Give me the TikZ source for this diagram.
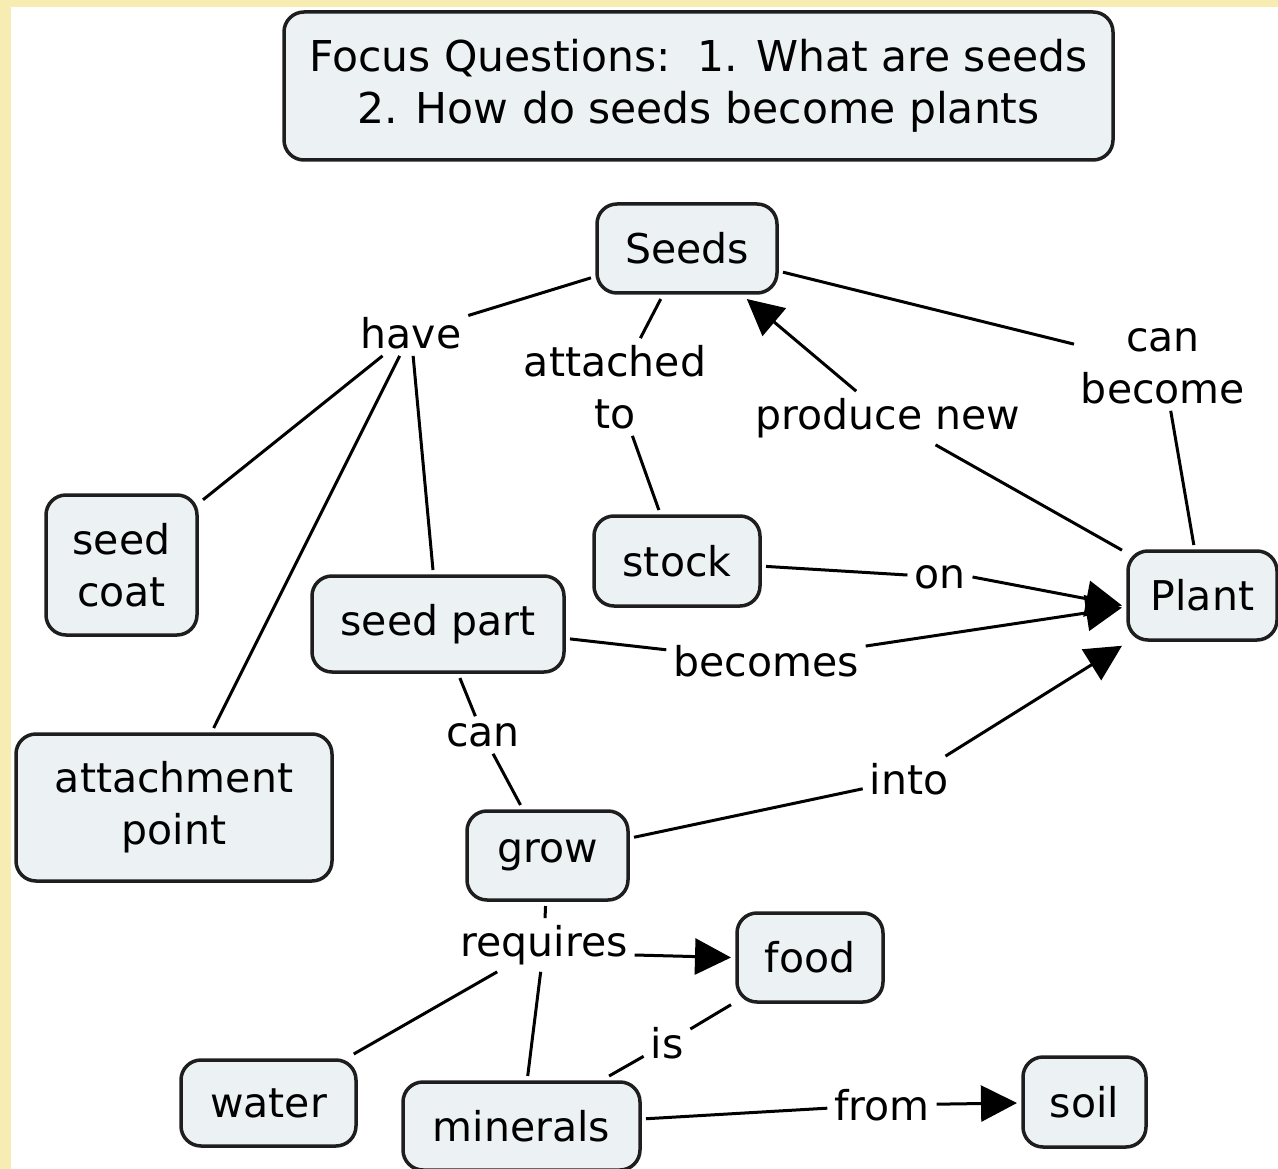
\documentclass[tikz,border=0pt]{standalone}
\usepackage{fontspec}
\setmainfont{DejaVu Sans}
\usetikzlibrary{arrows.meta}
\definecolor{bgyellow}{HTML}{F7EDB2}
\definecolor{boxfill}{HTML}{ECF1F4}
\definecolor{boxline}{HTML}{1E1E1E}
\tikzset{
  concept/.style={draw=boxline, fill=boxfill, line width=3.5pt, rounded corners=20pt,
    inner sep=0pt, outer sep=6pt, align=center, font=\fontsize{41}{52}\selectfont},
  linklabel/.style={inner sep=7pt, outer sep=0pt, align=center, font=\fontsize{41}{52}\selectfont},
  conn/.style={line width=3pt, draw=black},
  arr/.style={conn, -{Triangle[length=36pt,width=36pt]}},
}
\begin{document}
\begin{tikzpicture}[x=1pt,y=-1pt]
\fill[bgyellow] (0,0) rectangle (1278,1169);
\fill[white] (11,7) rectangle (1278,1169);
\useasboundingbox (0,0) rectangle (1278,1169);

% concepts
\node[concept, minimum width=829pt, minimum height=148pt, font=\fontsize{42.5}{52}\selectfont] (focus) at (698.5,86)
  {Focus Questions:~~1. What are seeds\\2. How do seeds become plants};
\node[concept, minimum width=180pt, minimum height=89pt] (seeds) at (687,248.5) {Seeds};
\node[concept, minimum width=151pt, minimum height=140pt] (coat) at (121.5,565) {seed\\coat};
\node[concept, minimum width=316pt, minimum height=147pt] (attach) at (174,807.5) {attachment\\point};
\node[concept, minimum width=252pt, minimum height=96pt] (part) at (438,624) {seed part};
\node[concept, minimum width=166pt, minimum height=90pt] (stock) at (677,561) {stock};
\node[concept, minimum width=149pt, minimum height=89pt] (plant) at (1202.5,595.5) {Plant};
\node[concept, minimum width=161pt, minimum height=89pt] (grow) at (547.5,855.5) {grow};
\node[concept, minimum width=146pt, minimum height=89pt] (food) at (810,957.5) {food};
\node[concept, minimum width=175pt, minimum height=86pt] (water) at (268.5,1103) {water};
\node[concept, minimum width=237pt, minimum height=88pt] (minerals) at (521.5,1126) {minerals};
\node[concept, minimum width=123pt, minimum height=90pt] (soil) at (1084.5,1102) {soil};

% link labels
\node[linklabel] (have) at (411,333) {have};
\node[linklabel] (attto) at (615,387) {attached\\to};
\node[linklabel] (produce) at (888,418) {produce new};
\node[linklabel] (canbecome) at (1163,366) {can\\become};
\node[linklabel] (on) at (940,577) {on};
\node[linklabel] (becomes) at (766,661) {becomes};
\node[linklabel] (can) at (483,735) {can};
\node[linklabel] (into) at (909,779) {into};
\node[linklabel] (requires) at (544,945) {requires};
\node[linklabel] (is) at (667,1043) {is};
\node[linklabel] (from) at (882,1105) {from};

% connectors
\draw[conn] (seeds) -- (have);
\draw[conn] (have) -- (coat);
\draw[conn] (have) -- (attach);
\draw[conn] (have) -- (part);
\draw[conn] (seeds) -- (attto);
\draw[conn] (attto) -- (stock);
\draw[conn] (seeds) -- (canbecome);
\draw[conn] (canbecome) -- (plant);
\draw[conn] (plant) -- (produce);
\draw[arr] (produce) -- (seeds);
\draw[conn] (stock) -- (on);
\draw[arr] (on.east) -- ([yshift=-10pt]plant.west);
\draw[conn] (part) -- (becomes);
\draw[arr] (becomes) -- (plant);
\draw[conn] (part) -- (can);
\draw[conn] (can) -- (grow);
\draw[conn] (grow) -- (into);
\draw[arr] (into) -- (plant);
\draw[conn] (grow) -- (requires);
\draw[arr] ([yshift=-10pt]requires.east) -- (food.west);
\draw[conn] (requires) -- (water);
\draw[conn] (requires) -- (minerals);
\draw[conn] (minerals) -- (is);
\draw[conn] (is) -- (food);
\draw[conn] (minerals) -- (from);
\draw[arr] (from) -- (soil);
\end{tikzpicture}
\end{document}
